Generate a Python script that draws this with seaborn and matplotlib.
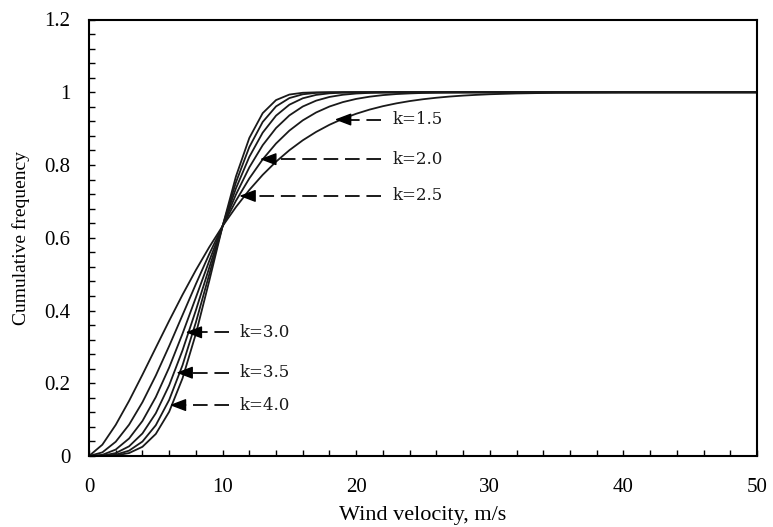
import matplotlib
matplotlib.use("Agg")
import matplotlib.pyplot as plt
import seaborn as sns
import pandas as pd
from matplotlib.ticker import MultipleLocator, FixedLocator

# ---- data ----
velocity = [0, 1, 2, 3, 4, 5, 6, 7, 8, 9, 10, 11, 12, 13, 14, 15, 16, 17, 18, 19,
            20, 21, 22, 23, 24, 25, 26, 27, 28, 29, 30, 32, 35, 40, 45, 50]

cdf_k15 = [0.0, 0.0311, 0.0856, 0.1515, 0.2235, 0.2978, 0.3717, 0.4433, 0.5111, 0.5742,
           0.6321, 0.6845, 0.7314, 0.7729, 0.8092, 0.8407, 0.8679, 0.8910, 0.9106, 0.9271,
           0.9409, 0.9523, 0.9617, 0.9694, 0.9757, 0.9808, 0.9849, 0.9882, 0.9908, 0.9928,
           0.9945, 0.9967, 0.9986, 0.9997, 0.9999, 1.0]
cdf_k20 = [0.0, 0.0100, 0.0392, 0.0861, 0.1479, 0.2212, 0.3023, 0.3874, 0.4727, 0.5551,
           0.6321, 0.7018, 0.7631, 0.8155, 0.8591, 0.8946, 0.9227, 0.9444, 0.9608, 0.9729,
           0.9817, 0.9878, 0.9921, 0.9950, 0.9968, 0.9981, 0.9988, 0.9993, 0.9996, 0.9998,
           0.9999, 1.0, 1.0, 1.0, 1.0, 1.0]
cdf_k25 = [0.0, 0.0032, 0.0177, 0.0481, 0.0962, 0.1620, 0.2433, 0.3363, 0.4358, 0.5363,
           0.6321, 0.7189, 0.7935, 0.8544, 0.9016, 0.9364, 0.9608, 0.9769, 0.9871, 0.9931,
           0.9965, 0.9983, 0.9992, 0.9997, 0.9999, 1.0, 1.0, 1.0, 1.0, 1.0,
           1.0, 1.0, 1.0, 1.0, 1.0, 1.0]
cdf_k30 = [0.0, 0.0010, 0.0080, 0.0266, 0.0620, 0.1175, 0.1943, 0.2904, 0.4007, 0.5176,
           0.6321, 0.7358, 0.8224, 0.8889, 0.9357, 0.9658, 0.9834, 0.9927, 0.9971, 0.9990,
           0.9997, 0.9999, 1.0, 1.0, 1.0, 1.0, 1.0, 1.0, 1.0, 1.0,
           1.0, 1.0, 1.0, 1.0, 1.0, 1.0]
cdf_k35 = [0.0, 0.0003, 0.0036, 0.0147, 0.0397, 0.0846, 0.1541, 0.2495, 0.3675, 0.4992,
           0.6321, 0.7524, 0.8494, 0.9183, 0.9611, 0.9840, 0.9944, 0.9983, 0.9996, 0.9999,
           1.0, 1.0, 1.0, 1.0, 1.0, 1.0, 1.0, 1.0, 1.0, 1.0,
           1.0, 1.0, 1.0, 1.0, 1.0, 1.0]
cdf_k40 = [0.0, 0.0001, 0.0016, 0.0081, 0.0253, 0.0606, 0.1216, 0.2135, 0.3361, 0.4812,
           0.6321, 0.7687, 0.8743, 0.9425, 0.9785, 0.9937, 0.9986, 0.9998, 1.0, 1.0,
           1.0, 1.0, 1.0, 1.0, 1.0, 1.0, 1.0, 1.0, 1.0, 1.0,
           1.0, 1.0, 1.0, 1.0, 1.0, 1.0]

series = [cdf_k15, cdf_k20, cdf_k25, cdf_k30, cdf_k35, cdf_k40]

# annotation labels and where their arrows point
ann_labels = ["k=1.5", "k=2.0", "k=2.5", "k=3.0", "k=3.5", "k=4.0"]
ann_tip_x = [18.4, 12.8, 11.25, 7.23, 6.54, 6.04]
ann_tip_y = [0.925, 0.816, 0.715, 0.340, 0.229, 0.140]
ann_text_x = [22.7, 22.7, 22.7, 11.3, 11.3, 11.3]

xticks = [0, 10, 20, 30, 40, 50]
yticks = [0, 0.2, 0.4, 0.6, 0.8, 1.0, 1.2]
ytick_labels = ["0", "0.2", "0.4", "0.6", "0.8", "1", "1.2"]

# ---- style ----
sns.set_theme(style="white")
plt.rcParams["font.family"] = ["Liberation Serif", "DejaVu Serif"]
plt.rcParams["axes.edgecolor"] = "black"

fig = plt.figure(figsize=(7.73, 5.27), dpi=100)
ax = fig.add_axes([89 / 773, 1 - 456 / 527, (757 - 89) / 773, (456 - 19.5) / 527])

for vals in series:
    sns.lineplot(x=velocity, y=vals, color="#1a1a1a", linewidth=1.3, ax=ax)

# annotations: dashed tail + solid arrowhead
head_len = 1.05  # in data units of x
for lab, tx, ty, lx in zip(ann_labels, ann_tip_x, ann_tip_y, ann_text_x):
    ax.plot([lx - 0.85, tx + head_len], [ty, ty], color="#1a1a1a", linewidth=1.4,
            linestyle=(0, (7.5, 3.5)))
    ax.annotate("", xy=(tx, ty), xytext=(tx + head_len, ty),
                arrowprops=dict(arrowstyle="-|>,head_length=1.0,head_width=0.38",
                                color="black", linewidth=1.0, shrinkA=0, shrinkB=0,
                                mutation_scale=10))
    ax.text(lx, ty, lab, ha="left", va="center", fontsize=12,
            family=["DejaVu Serif"], color="#1a1a1a")

ax.set_xlim(0, 50)
ax.set_ylim(0, 1.2)
ax.xaxis.set_major_locator(FixedLocator(xticks))
ax.xaxis.set_minor_locator(MultipleLocator(2))
ax.set_yticks(yticks)
ax.set_yticklabels(ytick_labels)
ax.yaxis.set_minor_locator(MultipleLocator(0.04))

ax.tick_params(axis="both", which="both", direction="in", length=4.5, width=1.0,
               color="black", labelsize=15, labelcolor="black")
ax.tick_params(axis="x", which="both", pad=16)
ax.tick_params(axis="y", which="both", pad=13.5)
ax.tick_params(top=False, right=False, which="both")
ax.tick_params(bottom=True, left=True, which="both")

for sp in ax.spines.values():
    sp.set_visible(True)
    sp.set_color("black")
    sp.set_linewidth(1.5)

ax.set_xlabel("Wind velocity, m/s", fontsize=16, labelpad=6, color="black")
ax.set_ylabel("Cumulative frequency", fontsize=14, labelpad=10, color="black")

fig.savefig("out.png", dpi=100)
